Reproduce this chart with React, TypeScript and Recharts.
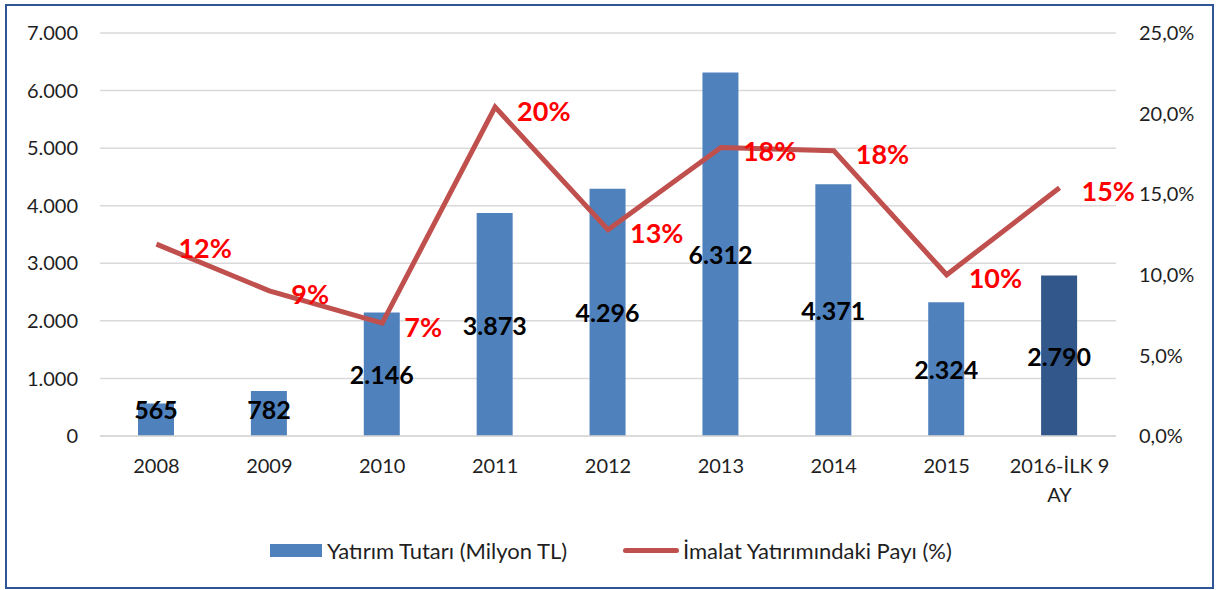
import React from 'react';
import { ComposedChart, Bar, Line, XAxis, YAxis, CartesianGrid, Legend, LabelList, Cell } from 'recharts';

const categories = ['2008', '2009', '2010', '2011', '2012', '2013', '2014', '2015', '2016-İLK 9 AY'];
const investment = [565, 782, 2146, 3873, 4296, 6312, 4371, 2324, 2790];
const share = [0.119, 0.09, 0.07, 0.204, 0.128, 0.179, 0.177, 0.1, 0.154];
const leftTicks = [0, 1000, 2000, 3000, 4000, 5000, 6000, 7000];
const rightTicks = [0, 0.05, 0.1, 0.15, 0.2, 0.25];

const BAR_NAME = 'Yatırım Tutarı (Milyon TL)';
const LINE_NAME = 'İmalat Yatırımındaki Payı (%)';

const data = categories.map((c, i) => ({ cat: c, inv: investment[i], share: share[i] }));

const FONT = 'Lato, Carlito, "Open Sans", sans-serif';
const TEXT = '#1f1f1f';

const fmtThousands = (v: number) => String(v).replace(/\B(?=(\d{3})+(?!\d))/g, '.');
const fmtPct1 = (v: number) => (v * 100).toFixed(1).replace('.', ',') + '%';

const XTick = (props: any) => {
  const { x, y, payload } = props;
  const s: string = payload.value;
  let lines = [s];
  if (s.length > 10) {
    const idx = s.lastIndexOf(' ');
    lines = [s.slice(0, idx), s.slice(idx + 1)];
  }
  return (
    <text x={x} y={y} textAnchor="middle" fill={TEXT} fontSize={20} fontFamily={FONT}>
      {lines.map((l, i) => (
        <tspan key={i} x={x} dy={i === 0 ? '0.71em' : 29}>{l}</tspan>
      ))}
    </text>
  );
};

const BarValueLabel = (props: any) => {
  const { x, y, width, height, value } = props;
  const cx = x + width / 2;
  const cy = Math.min(y + height / 2, y + height - 27);
  return (
    <text x={cx} y={cy} textAnchor="middle" dominantBaseline="central" fontSize={25} fontWeight="bold" fill="#000" fontFamily={FONT}>
      {fmtThousands(value)}
    </text>
  );
};

const LineValueLabel = (props: any) => {
  const { x, y, value } = props;
  return (
    <text x={x + 22} y={y + 3} textAnchor="start" dominantBaseline="central" fontSize={27} fontWeight="bold" fill="#FF0000" fontFamily={FONT}>
      {Math.round(value * 100) + '%'}
    </text>
  );
};

const LegendContent = (props: any) => {
  const payload = props.payload || [];
  const lefts = [270, 623];
  return (
    <div style={{ position: 'relative', height: 40, width: 1217, fontFamily: FONT, fontSize: 22, color: TEXT }}>
      {payload.map((e: any, i: number) => (
        <div key={i} style={{ position: 'absolute', left: lefts[i], top: 0, height: 40, display: 'flex', alignItems: 'center', whiteSpace: 'nowrap' }}>
          {e.type === 'line' ? (
            <div style={{ width: 56, height: 5, borderRadius: 3, background: e.color, marginRight: 4 }} />
          ) : (
            <div style={{ width: 52, height: 13, background: e.color, marginRight: 5 }} />
          )}
          <span>{e.value}</span>
        </div>
      ))}
    </div>
  );
};

export default function App() {
  return (
    <div style={{ position: 'absolute', left: 0, top: 0, width: 1217, height: 590, background: '#fff' }}>
      <ComposedChart width={1217} height={590} data={data} margin={{ top: 33, right: 0, bottom: 44, left: 0 }}>
        <CartesianGrid vertical={false} stroke="#D9D9D9" strokeWidth={1.5} yAxisId="left" />
        <XAxis
          dataKey="cat"
          height={70}
          tickSize={0}
          tickMargin={23}
          tickLine={false}
          axisLine={{ stroke: '#D9D9D9', strokeWidth: 1.5 }}
          tick={<XTick />}
          interval={0}
        />
        <YAxis
          yAxisId="left"
          width={100}
          domain={[0, 7000]}
          ticks={leftTicks}
          tickFormatter={fmtThousands}
          axisLine={false}
          tickLine={false}
          tickSize={0}
          tickMargin={22}
          tick={{ fill: TEXT, fontSize: 20, fontFamily: FONT }}
        />
        <YAxis
          yAxisId="right"
          orientation="right"
          width={101}
          domain={[0, 0.25]}
          ticks={rightTicks}
          tickFormatter={fmtPct1}
          axisLine={false}
          tickLine={false}
          tickSize={0}
          tickMargin={23}
          tick={{ fill: TEXT, fontSize: 20, fontFamily: FONT, textAnchor: 'start' }}
        />
        <Legend
          verticalAlign="bottom"
          content={<LegendContent />}
          wrapperStyle={{ top: 530, left: 0, width: 1217 }}
        />
        <Bar yAxisId="left" dataKey="inv" name={BAR_NAME} fill="#4F81BD" barSize={36} isAnimationActive={false}>
          {data.map((d, i) => (
            <Cell key={i} fill={i === data.length - 1 ? '#32578A' : '#4F81BD'} />
          ))}
          <LabelList dataKey="inv" content={<BarValueLabel />} />
        </Bar>
        <Line
          yAxisId="right"
          dataKey="share"
          name={LINE_NAME}
          stroke="#C0504D"
          strokeWidth={5}
          dot={false}
          activeDot={false}
          isAnimationActive={false}
        >
          <LabelList dataKey="share" content={<LineValueLabel />} />
        </Line>
      </ComposedChart>
      <div style={{ position: 'absolute', left: 5, top: 4, width: 1209, height: 585, border: '2px solid #2F5597', boxSizing: 'border-box', pointerEvents: 'none' }} />
    </div>
  );
}
